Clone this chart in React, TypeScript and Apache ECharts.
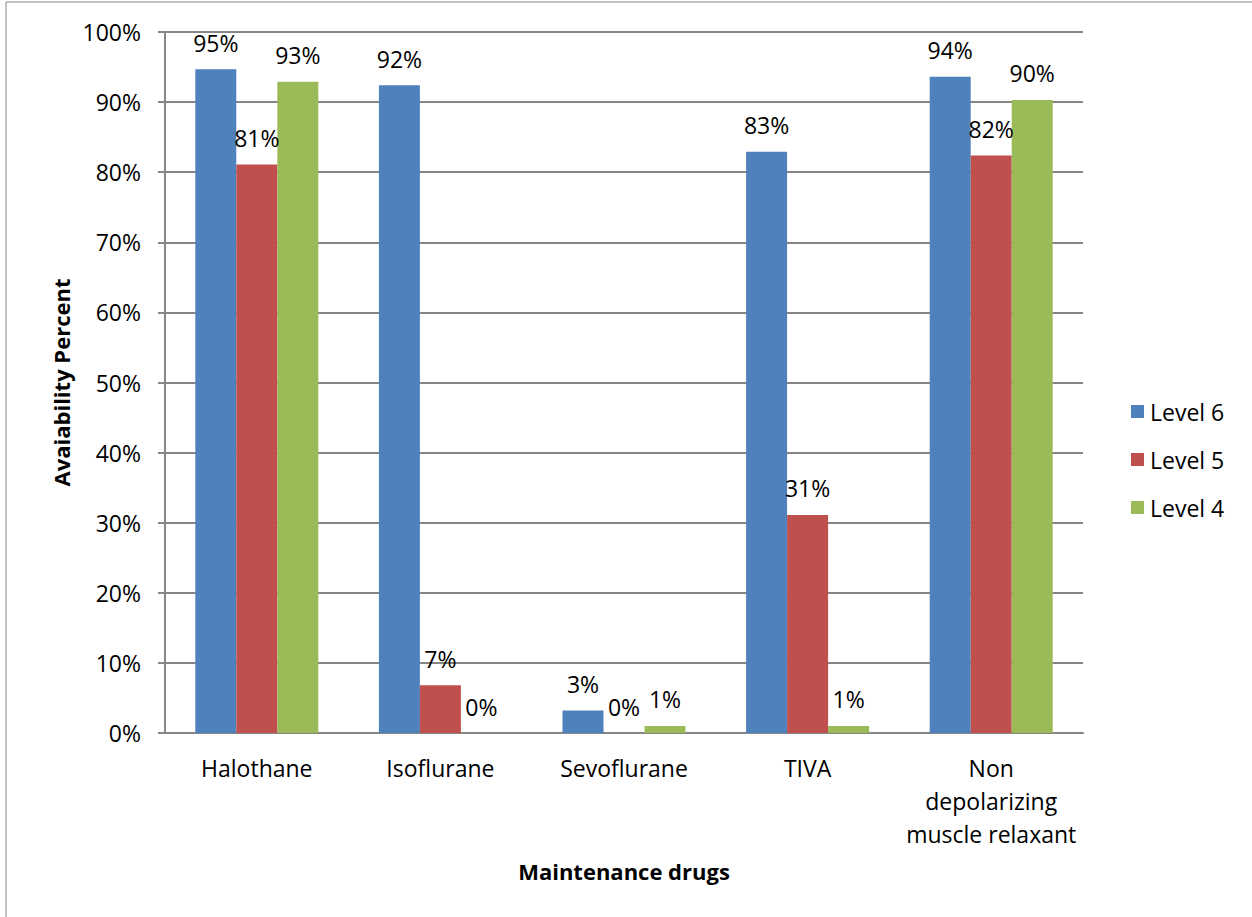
import React, { useEffect, useRef } from "react";
import * as echarts from "echarts";

const categories = ["Halothane", "Isoflurane", "Sevoflurane", "TIVA", "Non\ndepolarizing\nmuscle relaxant"];
const level6 = [94.7, 92.4, 3.2, 82.9, 93.6];
const level5 = [81.1, 6.8, 0, 31.1, 82.4];
const level4 = [92.9, 0, 1.0, 1.0, 90.3];
const seriesNames = ["Level 6", "Level 5", "Level 4"];
const colors = ["#4F81BD", "#C0504D", "#9BBB59"];

const FONT = "'Open Sans', sans-serif";
const FS = 23;

export default function App() {
  const ref = useRef<HTMLDivElement>(null);
  useEffect(() => {
    document.body.style.margin = "0";
    const chart = echarts.init(ref.current!, null, { renderer: "svg" });
    const data = [level6, level5, level4];
    chart.setOption({
      animation: false,
      backgroundColor: "#ffffff",
      textStyle: { fontFamily: FONT },
      graphic: [
        {
          type: "rect",
          shape: { x: 6, y: 2, width: 1260, height: 930 },
          style: { fill: "none", stroke: "#868686", lineWidth: 1 },
          silent: true,
        },
      ],
      legend: {
        orient: "vertical",
        left: 1126,
        top: 395,
        icon: "rect",
        itemWidth: 13,
        itemHeight: 13,
        itemGap: 25,
        textStyle: { fontSize: FS, color: "#000", fontFamily: FONT, padding: [0, 0, 0, 1] },
        data: seriesNames,
      },
      grid: { left: 165, right: 169, top: 32, bottom: 184 },
      xAxis: {
        type: "category",
        data: categories,
        name: "Maintenance drugs",
        nameLocation: "middle",
        nameGap: 127,
        nameTextStyle: { fontSize: 22, fontWeight: "bold", color: "#000", fontFamily: FONT },
        axisLine: { lineStyle: { color: "#868686", width: 2 } },
        axisTick: { show: false },
        axisLabel: { interval: 0, fontSize: FS, color: "#000", margin: 18, lineHeight: 33, fontFamily: FONT },
      },
      yAxis: {
        type: "value",
        min: 0,
        max: 100,
        interval: 10,
        name: "Avaiability Percent",
        nameLocation: "middle",
        nameGap: 93,
        nameTextStyle: { fontSize: 22, fontWeight: "bold", color: "#000", fontFamily: FONT },
        axisLine: { show: true, lineStyle: { color: "#868686", width: 2 } },
        axisTick: { show: true, length: 7, lineStyle: { color: "#868686", width: 2 } },
        axisLabel: { fontSize: FS, color: "#000", margin: 24, formatter: "{value}%", fontFamily: FONT },
        splitLine: { lineStyle: { color: "#868686", width: 2 } },
      },
      series: seriesNames.map((name, i) => ({
        name,
        type: "bar",
        data: data[i],
        barGap: "0%",
        barCategoryGap: "33%",
        itemStyle: { color: colors[i] },
        label: {
          show: true,
          position: "top",
          distance: 15,
          fontSize: FS,
          color: "#000",
          fontFamily: FONT,
          formatter: (p: any) => Math.round(p.value) + "%",
        },
      })),
    });
    return () => chart.dispose();
  }, []);
  return <div ref={ref} style={{ width: 1252, height: 917 }} />;
}
